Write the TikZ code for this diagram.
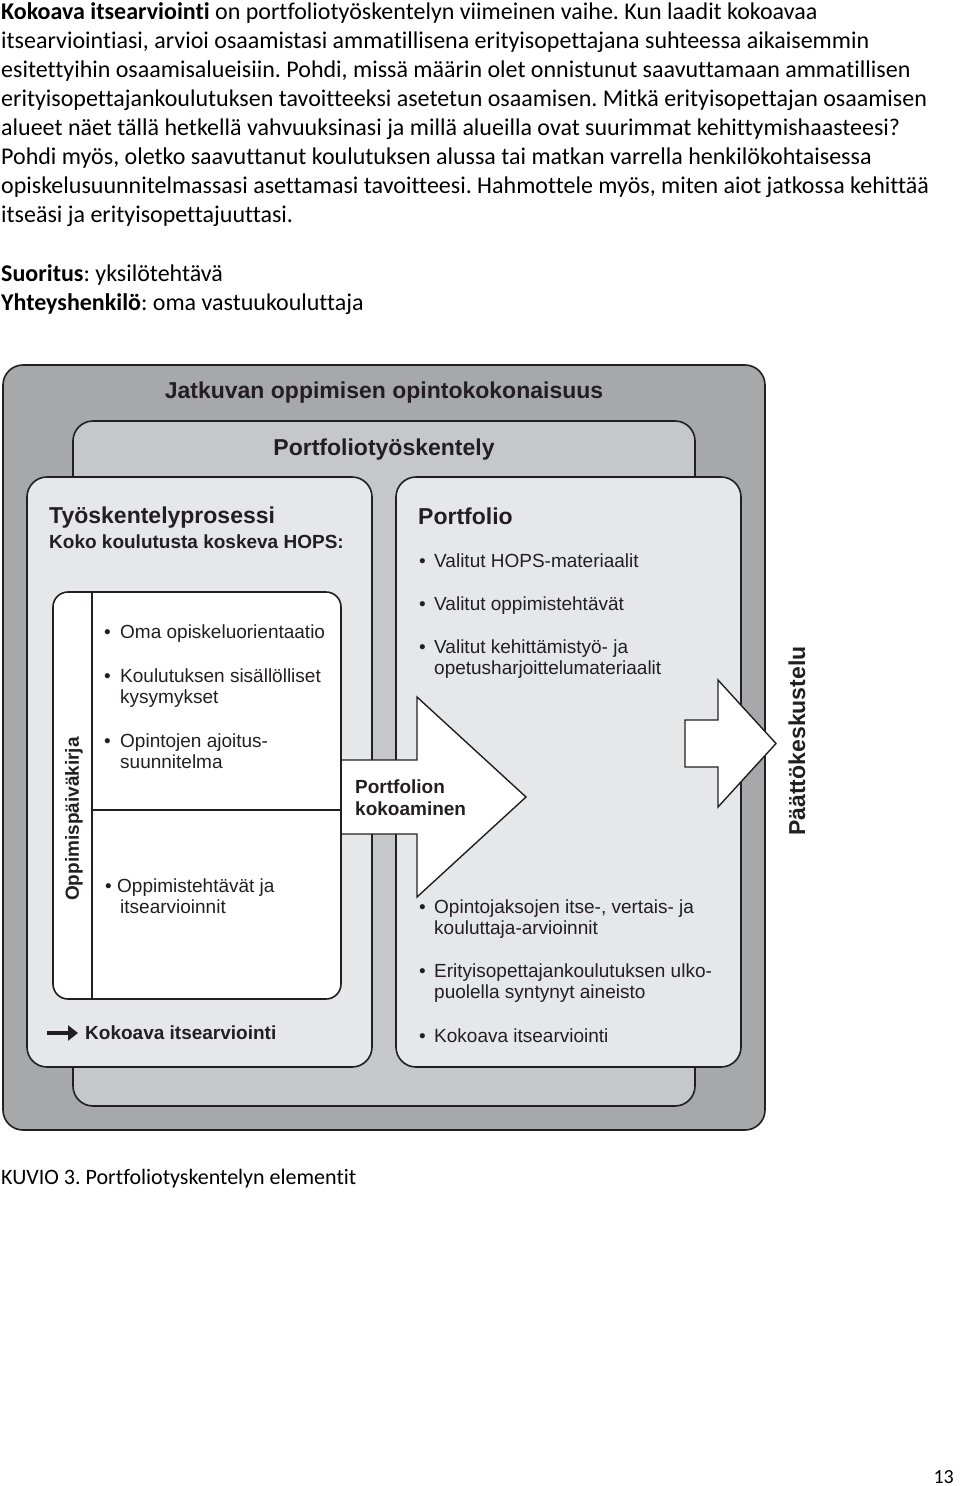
\documentclass[tikz,border=0pt]{standalone}
\usepackage{fontspec}
\setmainfont{Carlito}[Ligatures={NoCommon,TeX}]
\newfontfamily\arial{Liberation Sans}
\usetikzlibrary{arrows.meta}
\definecolor{gOuter}{HTML}{A7A8AA}
\definecolor{gMid}{HTML}{C6C7C9}
\definecolor{gLight}{HTML}{E6E7E8}
\definecolor{ink}{HTML}{231F20}
\frenchspacing
\tikzset{
  body/.style={anchor=base west,inner sep=0pt,font=\fontsize{24}{29}\selectfont,text=black},
  boxline/.style={draw=ink,line width=1.6pt},
  dtitle/.style={anchor=base,inner sep=0pt,text=ink,font=\arial\bfseries\fontsize{23}{26}\selectfont},
  dhead/.style={anchor=base west,inner sep=0pt,text=ink,font=\arial\bfseries\fontsize{23}{26}\selectfont},
  dsub/.style={anchor=base west,inner sep=0pt,text=ink,font=\arial\bfseries\fontsize{19}{22}\selectfont},
  ditem/.style={anchor=base west,inner sep=0pt,text=ink,font=\arial\fontsize{19}{22}\selectfont},
  arrowshape/.style={draw=ink,line width=1.4pt,fill=white,line join=miter}
}
\begin{document}
\begin{tikzpicture}[x=1pt,y=-1pt]
\useasboundingbox[fill=white] (0,0) rectangle (960,1486);
% --- top text
\node[body] (l1) at (1,19.5) {\textbf{Kokoava itsearviointi} on portfoliotyöskentelyn viimeinen vaihe. Kun laadit kokoavaa};
\node[body] (l2) at (1,48.5) {itsearviointiasi, arvioi osaamistasi ammatillisena erityisopettajana suhteessa aikaisemmin};
\node[body] (l3) at (1,77.5) {esitettyihin osaamisalueisiin. Pohdi, missä määrin olet onnistunut saavuttamaan ammatillisen};
\node[body] (l4) at (1,106.5) {erityisopettajankoulutuksen tavoitteeksi asetetun osaamisen. Mitkä erityisopettajan osaamisen};
\node[body] (l5) at (1,135.5) {alueet näet tällä hetkellä vahvuuksinasi ja millä alueilla ovat suurimmat kehittymishaasteesi?};
\node[body] (l6) at (1,164.5) {Pohdi myös, oletko saavuttanut koulutuksen alussa tai matkan varrella henkilökohtaisessa};
\node[body] (l7) at (1,193.5) {opiskelusuunnitelmassasi asettamasi tavoitteesi. Hahmottele myös, miten aiot jatkossa kehittää};
\node[body] (l8) at (1,222.5) {itseäsi ja erityisopettajuuttasi.};
\node[body] (l9) at (1,281) {\textbf{Suoritus}: yksilötehtävä};
\node[body] (l10) at (1,310) {\textbf{Yhteyshenkilö}: oma vastuukouluttaja};
% --- boxes
\draw[boxline,fill=gOuter,rounded corners=20pt] (3,365) rectangle (765,1130);
\node[dtitle] (t1) at (384,398) {Jatkuvan oppimisen opintokokonaisuus};
\draw[boxline,fill=gMid,rounded corners=20pt] (73,421) rectangle (695,1106);
\node[dtitle] (t2) at (384,455) {Portfoliotyöskentely};
\draw[boxline,fill=gLight,rounded corners=20pt] (27,477) rectangle (372,1067);
\draw[boxline,fill=gLight,rounded corners=20pt] (396,477) rectangle (741,1067);
% left box texts
\node[dhead] (tp) at (49,523) {Työskentelyprosessi};
\node[dsub] (hops) at (49,548) {Koko koulutusta koskeva HOPS:};
% white box
\draw[boxline,fill=white,rounded corners=15pt] (53,592) rectangle (341,999);
\draw[boxline] (92,592) -- (92,999);
\draw[boxline] (92,810) -- (341,810);
\node[dsub,anchor=center,rotate=90] (op) at (74,819) {Oppimispäiväkirja};
\node[ditem] (b1) at (104,638) {•};
\node[ditem] (i1) at (120,638) {Oma opiskeluorientaatio};
\node[ditem] (b2) at (104,682) {•};
\node[ditem] (i2a) at (120,682) {Koulutuksen sisällölliset};
\node[ditem] (i2b) at (120,703.5) {kysymykset};
\node[ditem] (b3) at (104,747) {•};
\node[ditem] (i3a) at (120,747) {Opintojen ajoitus-};
\node[ditem] (i3b) at (120,768.5) {suunnitelma};
\node[ditem] (b4) at (105,892) {•};
\node[ditem] (i4a) at (117,892) {Oppimistehtävät ja};
\node[ditem] (i4b) at (120,913.5) {itsearvioinnit};
% Kokoava itsearviointi with arrow
\node[dsub] (kok) at (85,1039.5) {Kokoava itsearviointi};
\coordinate (kokstart) at (47,1033);
\draw[ink,line width=3.4pt,-{Triangle[length=10pt,width=15pt]}] (kokstart) -- (78,1033);
% portfolio texts
\node[dhead] (pf) at (418,524) {Portfolio};
\node[ditem] (p1b) at (419,567) {•};
\node[ditem] (p1) at (434,567) {Valitut HOPS-materiaalit};
\node[ditem] (p2b) at (419,610) {•};
\node[ditem] (p2) at (434,610) {Valitut oppimistehtävät};
\node[ditem] (p3b) at (419,653) {•};
\node[ditem] (p3a) at (434,653) {Valitut kehittämistyö- ja};
\node[ditem] (p3c) at (434,674.5) {opetusharjoittelumateriaalit};
\node[ditem] (p4b) at (419,913) {•};
\node[ditem] (p4a) at (434,913) {Opintojaksojen itse-, vertais- ja};
\node[ditem] (p4c) at (434,934.5) {kouluttaja-arvioinnit};
\node[ditem] (p5b) at (419,977) {•};
\node[ditem] (p5a) at (434,977) {Erityisopettajankoulutuksen ulko-};
\node[ditem] (p5c) at (434,998.5) {puolella syntynyt aineisto};
\node[ditem] (p6b) at (419,1042) {•};
\node[ditem] (p6a) at (434,1042) {Kokoava itsearviointi};
% big arrow
\draw[arrowshape] (341,760) -- (417,760) -- (417,697) -- (526,797) -- (417,897) -- (417,834) -- (341,834);
\draw[boxline] (341,755) -- (341,840);
\node[dsub] (pk1) at (355,793) {Portfolion};
\node[dsub] (pk2) at (355,815) {kokoaminen};
% small arrow
\draw[arrowshape] (685,720) -- (718,720) -- (718,680) -- (776,743.5) -- (718,807) -- (718,767) -- (685,767) -- cycle;
\node[dhead,anchor=center,rotate=90] (pt) at (797,741) {Päättökeskustelu};
% caption and page number
\node[body,font=\fontsize{22}{26}\selectfont] (cap) at (1,1184) {KUVIO 3. Portfoliotyskentelyn elementit};
\node[body,anchor=base east,font=\fontsize{20}{24}\selectfont] (pg) at (954,1483) {13};
\end{tikzpicture}
\end{document}
